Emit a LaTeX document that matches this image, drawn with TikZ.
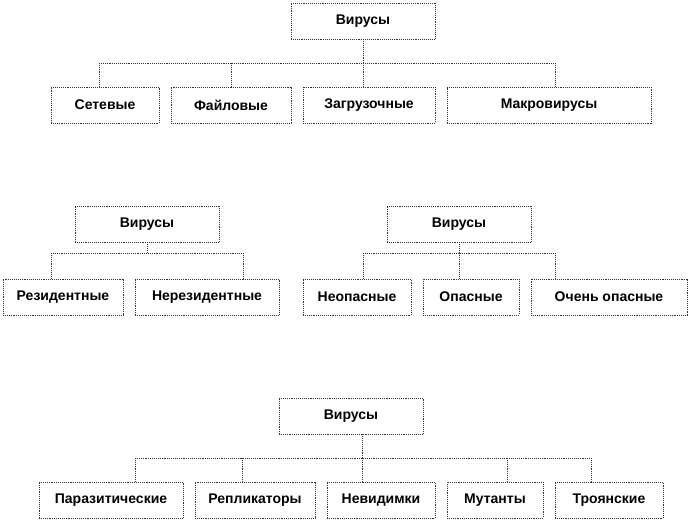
\documentclass[tikz,border=0pt]{standalone}
\usepackage{fontspec}
\setmainfont{Liberation Sans}
\begin{document}
\begin{tikzpicture}[x=1pt,y=-1pt,
  box/.style={draw=black!80, densely dotted, line width=0.9pt, rectangle, inner sep=0pt,
    minimum height=36pt, font=\fontsize{14}{16}\selectfont\bfseries, text=black},
  conn/.style={draw=black!80, densely dotted, line width=0.9pt}]
\useasboundingbox (0,0) rectangle (690,521);
% group 1
\node[box, minimum width=144pt] (v1) at (363,21) {Вирусы};
\node[box, minimum width=108pt] (set) at (105,105) {Сетевые};
\node[box, minimum width=120pt] (fil) at (231,105) {Файловые};
\node[box, minimum width=132pt] (zag) at (369,105) {Загрузочные};
\node[box, minimum width=204pt] (mak) at (549,105) {Макровирусы};
\coordinate (h1a) at (99,63);
\coordinate (h1b) at (231,63);
\coordinate (h1c) at (363,63);
\coordinate (h1d) at (555,63);
\draw[conn] (v1.south) -- (h1c);
\draw[conn] (h1a) -- (h1d);
\draw[conn] (h1a) -- (h1a |- set.north);
\draw[conn] (h1b) -- (h1b |- fil.north);
\draw[conn] (h1c) -- (h1c |- zag.north);
\draw[conn] (h1d) -- (h1d |- mak.north);
% group 2
\node[box, minimum width=144pt] (v2) at (147,224) {Вирусы};
\node[box, minimum width=120pt] (rez) at (63,297) {Резидентные};
\node[box, minimum width=144pt] (nrez) at (207,297) {Нерезидентные};
\coordinate (h2a) at (51,253);
\coordinate (h2m) at (147,253);
\coordinate (h2b) at (243,253);
\draw[conn] (v2.south) -- (h2m);
\draw[conn] (h2a) -- (h2b);
\draw[conn] (h2a) -- (h2a |- rez.north);
\draw[conn] (h2b) -- (h2b |- nrez.north);
% group 3
\node[box, minimum width=144pt] (v3) at (459,224) {Вирусы};
\node[box, minimum width=108pt] (neop) at (357,297) {Неопасные};
\node[box, minimum width=96pt] (op) at (471,297) {Опасные};
\node[box, minimum width=156pt] (ochop) at (609,297) {Очень опасные};
\coordinate (h3a) at (363,253);
\coordinate (h3m) at (459,253);
\coordinate (h3b) at (555,253);
\draw[conn] (v3.south) -- (h3m);
\draw[conn] (h3a) -- (h3b);
\draw[conn] (h3a) -- (h3a |- neop.north);
\draw[conn] (h3m) -- (h3m |- op.north);
\draw[conn] (h3b) -- (h3b |- ochop.north);
% group 4
\node[box, minimum width=144pt] (v4) at (351,416) {Вирусы};
\node[box, minimum width=144pt] (par) at (111,500) {Паразитические};
\node[box, minimum width=120pt] (rep) at (255,500) {Репликаторы};
\node[box, minimum width=108pt] (nev) at (381,500) {Невидимки};
\node[box, minimum width=96pt] (mut) at (495,500) {Мутанты};
\node[box, minimum width=108pt] (tro) at (609,500) {Троянские};
\coordinate (h4a) at (135,458);
\coordinate (h4b) at (242,458);
\coordinate (h4c) at (362,458);
\coordinate (h4d) at (507,458);
\coordinate (h4e) at (591,458);
\draw[conn] (v4.south -| h4c) -- (h4c);
\draw[conn] (h4a) -- (h4e);
\draw[conn] (h4a) -- (h4a |- par.north);
\draw[conn] (h4b) -- (h4b |- rep.north);
\draw[conn] (h4c) -- (h4c |- nev.north);
\draw[conn] (h4d) -- (h4d |- mut.north);
\draw[conn] (h4e) -- (h4e |- tro.north);
\end{tikzpicture}
\end{document}
